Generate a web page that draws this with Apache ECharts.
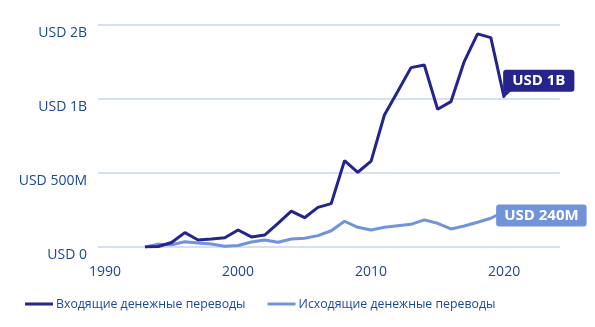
<!DOCTYPE html>
<html>
<head>
<meta charset="utf-8">
<script src="https://cdn.jsdelivr.net/npm/echarts@6.0.0/dist/echarts.min.js"></script>
<style>
html,body{margin:0;padding:0;background:#fff;}
#chart{width:595px;height:327px;}
</style>
</head>
<body>
<div id="chart"></div>
<script>
const years = [1993,1994,1995,1996,1997,1998,1999,2000,2001,2002,2003,2004,2005,2006,2007,2008,2009,2010,2011,2012,2013,2014,2015,2016,2017,2018,2019,2020];
const incoming = [0,3,30,97,47,54,63,115,68,81,160,243,198,268,293,583,505,580,892,1050,1212,1230,931,982,1253,1440,1415,1009];
const outgoing = [0,18,15,36,27,20,5,10,34,47,32,54,59,77,110,174,133,115,133,144,153,183,160,122,142,167,194,240];
const seriesNames = ['Входящие денежные переводы','Исходящие денежные переводы'];
const endLabels = ['USD 1B','USD 240M'];
const xTickYears = [1990,2000,2010,2020];
const yTickValues = [0,500,1000,1500];
const yTickLabels = ['USD 0','USD 500M','USD 1B','USD 2B'];

const textColor = '#1b4699';
const darkBlue = '#24248c';
const lightBlue = '#7193d9';
const font = '"Open Sans", sans-serif';

const chart = echarts.init(document.getElementById('chart'), null, {renderer:'canvas'});
chart.setOption({
  animation:false,
  textStyle:{fontFamily:font},
  grid:{left:98,right:35,top:25,bottom:80,containLabel:false},
  legend:{
    left:20, top:293,
    itemWidth:28, itemHeight:3, itemGap:22,
    icon:'rect',
    textStyle:{color:textColor,fontSize:12.3,fontFamily:font,padding:[0,0,0,-2]},
    data:seriesNames
  },
  xAxis:{
    type:'value', min:1989.47, max:2024.2,
    axisLine:{show:false}, axisTick:{show:false}, splitLine:{show:false},
    axisLabel:{customValues:xTickYears, color:textColor, fontSize:14, margin:18, fontFamily:font,
      formatter:v=>String(v)}
  },
  yAxis:{
    type:'value', min:0, max:1500, interval:500,
    axisLine:{show:false}, axisTick:{show:false},
    splitLine:{lineStyle:{color:'#c9d4f1',width:1.5}},
    axisLabel:{color:textColor, fontSize:14, margin:11, verticalAlign:'top', padding:[1,0,0,0], fontFamily:font,
      formatter:v=>yTickLabels[yTickValues.indexOf(v)]}
  },
  series:[
    {
      name:seriesNames[0], type:'line', showSymbol:false, z:3,
      data:years.map((y,i)=>[y,incoming[i]]),
      lineStyle:{color:darkBlue,width:3}, itemStyle:{color:darkBlue},
      endLabel:{show:true, formatter:endLabels[0], backgroundColor:darkBlue, color:'#fff',
        fontWeight:'bold', fontSize:15, fontFamily:font, padding:[4,9,3,9], borderRadius:3,
        distance:0, offset:[-1,-17]},
      markPoint:{
        symbol:'path://M0,0 L8,0 L0,7 Z', symbolSize:[8,7], symbolOffset:[3,-3],
        itemStyle:{color:darkBlue}, label:{show:false},
        data:[{coord:[years[years.length-1], incoming[incoming.length-1]]}]
      }
    },
    {
      name:seriesNames[1], type:'line', showSymbol:false, z:2,
      data:years.map((y,i)=>[y,outgoing[i]]),
      lineStyle:{color:lightBlue,width:3}, itemStyle:{color:lightBlue},
      endLabel:{show:true, formatter:endLabels[1], backgroundColor:lightBlue, color:'#fff',
        fontWeight:'bold', fontSize:15, fontFamily:font, padding:[4,8,3,8], borderRadius:3,
        distance:0, offset:[-8,4]}
    }
  ]
});
</script>
</body>
</html>
